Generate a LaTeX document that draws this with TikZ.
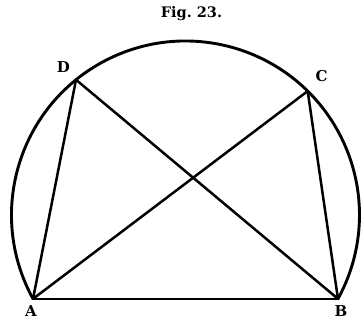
\documentclass[tikz,border=0pt]{standalone}
\usepackage{fontspec}
\usepackage{tikz}
\usetikzlibrary{calc}
\newfontfamily\figfont{DejaVu Serif}

\begin{document}
\begin{tikzpicture}[x=1pt, y=1pt, line cap=round, line join=round,
    chord/.style={line width=2.5pt},
    ptlabel/.style={font=\figfont\fontsize{15}{17}\selectfont\bfseries, inner sep=0pt}]
  \useasboundingbox (0,0) rectangle (361,324);
  \coordinate (O) at (185.5,109);
  \coordinate (A) at ($(O)+(208.8:174)$);
  \coordinate (B) at ($(O)+(-28.8:174)$);
  \coordinate (D) at ($(O)+(129:174)$);
  \coordinate (C) at ($(O)+(45.4:174)$);
  % title
  \node[font=\figfont\fontsize{14.5}{17}\selectfont\bfseries, inner sep=0pt]
    (title) at (191.5,310) {Fig.\ 23.};
  % the arc over AB
  \draw[line width=2.9pt] (A) arc[start angle=208.8, end angle=-28.8, radius=174];
  % chords
  \draw[chord] (A) -- (B);
  \draw[chord] (A) -- (D);
  \draw[chord] (A) -- (C);
  \draw[chord] (B) -- (D);
  \draw[chord] (B) -- (C);
  % labels
  \node[ptlabel] (labA) at ($(A)+(-2,-12.7)$) {A};
  \node[ptlabel] (labB) at ($(B)+(3,-12.7)$) {B};
  \node[ptlabel] (labD) at ($(D)+(-12.5,12.3)$) {D};
  \node[ptlabel] (labC) at ($(C)+(13.8,14.6)$) {C};
\end{tikzpicture}
\end{document}
